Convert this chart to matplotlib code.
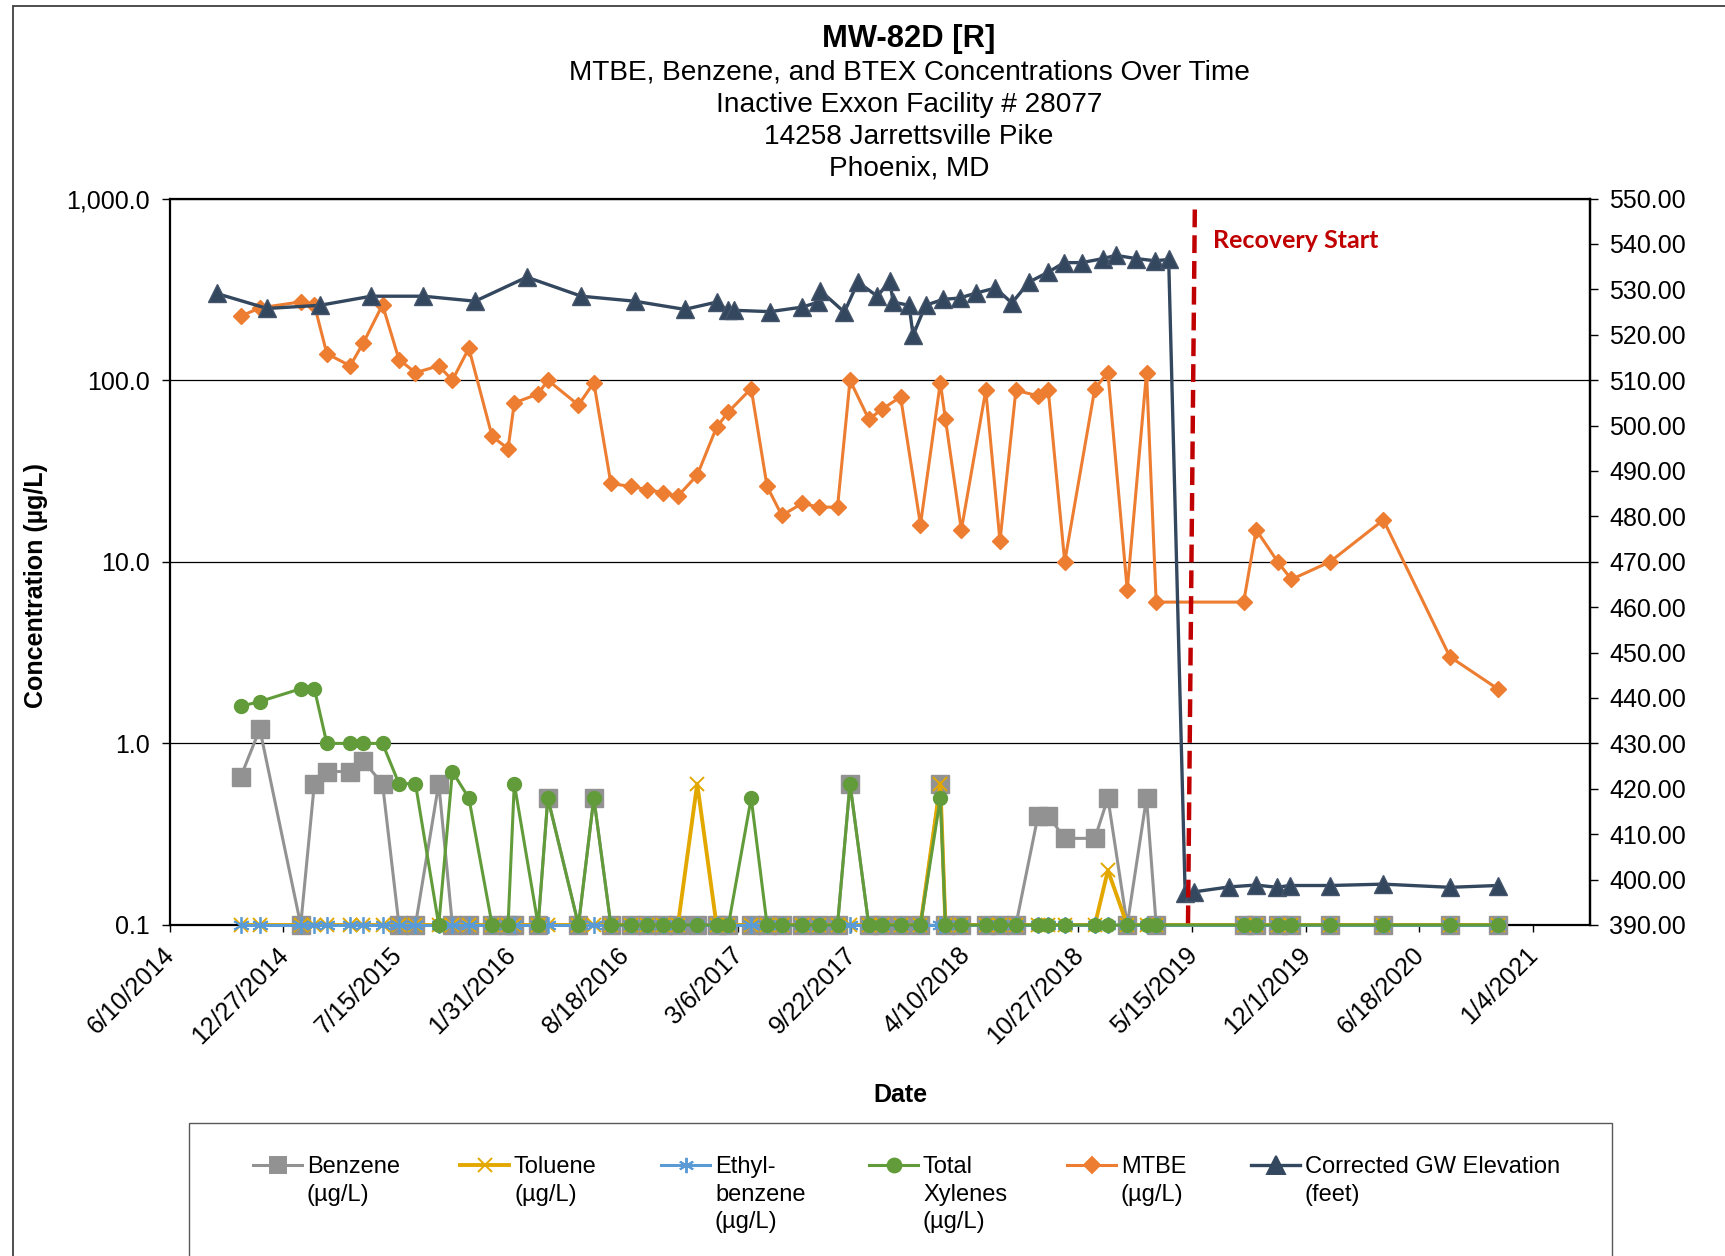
import matplotlib
matplotlib.use("Agg")
import matplotlib.pyplot as plt
from matplotlib.lines import Line2D
from matplotlib.patches import Rectangle
from matplotlib.ticker import FixedLocator, NullLocator, FuncFormatter
from matplotlib.transforms import ScaledTranslation
import pandas as pd
import numpy as np

plt.rcParams['font.family'] = ['Liberation Sans', 'DejaVu Sans']

# sampling dates for the concentration series
sample_dates = pd.to_datetime([
    "2014-10-13", "2014-11-16", "2015-01-27", "2015-02-20", "2015-03-14",
    "2015-04-24", "2015-05-17", "2015-06-20", "2015-07-19", "2015-08-17",
    "2015-09-27", "2015-10-21", "2015-11-19", "2015-12-30", "2016-01-27",
    "2016-02-07", "2016-03-20", "2016-04-06", "2016-05-30", "2016-06-26",
    "2016-07-26", "2016-08-30", "2016-09-28", "2016-10-26", "2016-11-21",
    "2016-12-25", "2017-01-28", "2017-02-18", "2017-03-30", "2017-04-27",
    "2017-05-23", "2017-06-28", "2017-07-27", "2017-08-29", "2017-09-20",
    "2017-10-23", "2017-11-15", "2017-12-18", "2018-01-22", "2018-02-26",
    "2018-03-07", "2018-04-04", "2018-05-17", "2018-06-11", "2018-07-09",
    "2018-08-17", "2018-09-04", "2018-10-03", "2018-11-25", "2018-12-18",
    "2019-01-21", "2019-02-24", "2019-03-13", "2019-08-14", "2019-09-05",
    "2019-10-13", "2019-11-06", "2020-01-13", "2020-04-16", "2020-08-11",
    "2020-11-03",
])

mtbe = [225, 250, 270, 260, 140, 120, 160, 260, 130, 110,
        120, 100, 150, 49, 42, 75, 84, 100, 73, 97,
        27, 26, 25, 24, 23, 30, 55, 67, 90, 26,
        18, 21, 20, 20, 100, 61, 69, 81, 16, 97,
        61, 15, 88, 13, 88, 82, 88, 10, 90, 110,
        7, 110, 6, 6, 15, 10, 8, 10, 17, 3,
        2]

benzene = [0.65, 1.2, 0.1, 0.6, 0.7, 0.7, 0.8, 0.6, 0.1, 0.1,
           0.6, 0.1, 0.1, 0.1, 0.1, 0.1, 0.1, 0.5, 0.1, 0.5,
           0.1, 0.1, 0.1, 0.1, 0.1, 0.1, 0.1, 0.1, 0.1, 0.1,
           0.1, 0.1, 0.1, 0.1, 0.6, 0.1, 0.1, 0.1, 0.1, 0.6,
           0.1, 0.1, 0.1, 0.1, 0.1, 0.4, 0.4, 0.3, 0.3, 0.5,
           0.1, 0.5, 0.1, 0.1, 0.1, 0.1, 0.1, 0.1, 0.1, 0.1,
           0.1]

toluene = [0.1, 0.1, 0.1, 0.1, 0.1, 0.1, 0.1, 0.1, 0.1, 0.1,
           0.1, 0.1, 0.1, 0.1, 0.1, 0.1, 0.1, 0.1, 0.1, 0.1,
           0.1, 0.1, 0.1, 0.1, 0.1, 0.6, 0.1, 0.1, 0.1, 0.1,
           0.1, 0.1, 0.1, 0.1, 0.1, 0.1, 0.1, 0.1, 0.1, 0.6,
           0.1, 0.1, 0.1, 0.1, 0.1, 0.1, 0.1, 0.1, 0.1, 0.2,
           0.1, 0.1, 0.1, 0.1, 0.1, 0.1, 0.1, 0.1, 0.1, 0.1,
           0.1]

ethylbenzene = [0.1, 0.1, 0.1, 0.1, 0.1, 0.1, 0.1, 0.1, 0.1, 0.1,
                0.1, 0.1, 0.1, 0.1, 0.1, 0.1, 0.1, 0.1, 0.1, 0.1,
                0.1, 0.1, 0.1, 0.1, 0.1, 0.1, 0.1, 0.1, 0.1, 0.1,
                0.1, 0.1, 0.1, 0.1, 0.1, 0.1, 0.1, 0.1, 0.1, 0.1,
                0.1, 0.1, 0.1, 0.1, 0.1, 0.1, 0.1, 0.1, 0.1, 0.1,
                0.1, 0.1, 0.1, 0.1, 0.1, 0.1, 0.1, 0.1, 0.1, 0.1,
                0.1]

xylenes = [1.6, 1.7, 2.0, 2.0, 1.0, 1.0, 1.0, 1.0, 0.6, 0.6,
           0.1, 0.7, 0.5, 0.1, 0.1, 0.6, 0.1, 0.5, 0.1, 0.5,
           0.1, 0.1, 0.1, 0.1, 0.1, 0.1, 0.1, 0.1, 0.5, 0.1,
           0.1, 0.1, 0.1, 0.1, 0.6, 0.1, 0.1, 0.1, 0.1, 0.5,
           0.1, 0.1, 0.1, 0.1, 0.1, 0.1, 0.1, 0.1, 0.1, 0.1,
           0.1, 0.1, 0.1, 0.1, 0.1, 0.1, 0.1, 0.1, 0.1, 0.1,
           0.1]

# groundwater elevation gauging
gw_dates = pd.to_datetime([
    "2014-09-01", "2014-11-29", "2015-03-02", "2015-05-31", "2015-08-31",
    "2015-11-30", "2016-02-29", "2016-06-04", "2016-09-06", "2016-12-03",
    "2017-01-28", "2017-02-17", "2017-02-28", "2017-05-02", "2017-06-28",
    "2017-07-26", "2017-07-30", "2017-09-10", "2017-10-04", "2017-11-07",
    "2017-11-29", "2017-12-05", "2018-01-02", "2018-01-09", "2018-01-31",
    "2018-03-03", "2018-04-01", "2018-04-30", "2018-06-03", "2018-07-02",
    "2018-08-01", "2018-09-04", "2018-10-02", "2018-11-02", "2018-12-10",
    "2019-01-01", "2019-02-05", "2019-03-11", "2019-04-04", "2019-05-03",
    "2019-05-19", "2019-07-20", "2019-09-05", "2019-10-12", "2019-11-03",
    "2020-01-13", "2020-04-16", "2020-08-11", "2020-11-03",
])
gw_elev = [529.1, 525.8, 526.5, 528.5, 528.5, 527.4, 532.7, 528.5, 527.4, 525.6,
           527.2, 525.4, 525.4, 525.1, 526.1, 527.2, 529.7, 525.0, 531.6, 528.5,
           531.8, 527.2, 526.5, 519.9, 526.5, 527.8, 528.1, 529.2, 530.3, 527.0,
           531.6, 533.8, 535.9, 535.9, 536.8, 537.5, 536.8, 536.3, 536.6, 397.0,
           397.3, 398.4, 398.8, 398.3, 398.7, 398.7, 399.0, 398.3, 398.7]

recovery_dates = pd.to_datetime(["2019-05-20", "2019-05-08"])

x_ticks = pd.date_range("2014-06-10", periods=13, freq="200D")
x_max = pd.Timestamp("2021-04-14")

title_lines = ["MTBE, Benzene, and BTEX Concentrations Over Time",
               "Inactive Exxon Facility # 28077",
               "14258 Jarrettsville Pike",
               "Phoenix, MD"]

c_benz = '#929292'
c_tol = '#e3a800'
c_eth = '#5b9bd5'
c_xyl = '#629c3a'
c_mtbe = '#ed7d31'
c_gw = '#33475e'
c_red = '#c00000'

W, H = 1725, 1256
fig = plt.figure(figsize=(W / 100, H / 100), dpi=100)


def fx(px):
    return px / W


def fy(py):
    return 1 - py / H


ax = fig.add_axes([fx(169.5), fy(925), fx(1589.6) - fx(169.5), fy(198.6) - fy(925)])

ax.plot(sample_dates, benzene, color=c_benz, lw=2.2, marker='s', ms=13,
        mec=c_benz, zorder=3, clip_on=False)
ax.plot(sample_dates, toluene, color=c_tol, lw=2.8, marker='x', ms=10,
        mew=1.4, zorder=4, clip_on=False)
ax.plot(sample_dates, ethylbenzene, color=c_eth, lw=2.2, marker=(6, 2, 0), ms=12,
        mew=1.3, zorder=5, clip_on=False)
ax.plot(sample_dates, xylenes, color=c_xyl, lw=2.2, marker='o', ms=10,
        zorder=6, clip_on=False)
ax.plot(sample_dates, mtbe, color=c_mtbe, lw=2.2, marker='D', ms=8,
        zorder=7, clip_on=False)

ax.set_yscale('log')
ax.set_ylim(0.1, 1000)
ax.yaxis.set_major_locator(FixedLocator([0.1, 1, 10, 100, 1000]))
ax.yaxis.set_minor_locator(NullLocator())
ax.yaxis.set_major_formatter(FuncFormatter(lambda v, p: f"{v:,.1f}"))
ax.grid(axis='y', color='black', lw=0.9)
ax.set_axisbelow(True)

ax.set_xlim(x_ticks[0], x_max)
ax.set_xticks(x_ticks)
ax.set_xticklabels([f"{d.month}/{d.day}/{d.year}" for d in x_ticks],
                   rotation=45, ha='right', rotation_mode='anchor')
ax.xaxis.set_minor_locator(NullLocator())

ax.tick_params(axis='y', direction='out', length=6, width=1, labelsize=18, pad=8)
ax.tick_params(axis='x', direction='out', length=5, width=1, labelsize=18, pad=8)

# nudge the slanted date labels a little to the left (after tick_params)
shift = ScaledTranslation(-5 / 72, 0, fig.dpi_scale_trans)
for lbl in ax.get_xticklabels():
    lbl.set_transform(lbl.get_transform() + shift)

for s in ax.spines.values():
    s.set_color('black')
    s.set_linewidth(1.6)
    s.set_zorder(1)

ax2 = ax.twinx()
ax2.plot(gw_dates, gw_elev, color=c_gw, lw=2.4, marker='^', ms=13,
         mec='#44546a', zorder=3, clip_on=False)
ax2.set_ylim(390, 550)
ax2.set_yticks(np.arange(390, 551, 10))
ax2.yaxis.set_major_formatter(FuncFormatter(lambda v, p: f"{v:.2f}"))
ax2.tick_params(axis='y', direction='out', length=6, width=1, labelsize=18, pad=8)
for name, s in ax2.spines.items():
    if name == 'right':
        s.set_color('black')
        s.set_linewidth(1.6)
    else:
        s.set_visible(False)

# recovery start marker
ax2.plot(recovery_dates, [547.6, 390], color=c_red, lw=3.2,
         linestyle=(0, (4, 1.8)), zorder=10, clip_on=False)
ax2.text(0.735, 0.943, "Recovery Start", transform=ax2.transAxes,
         color=c_red, fontsize=18, fontweight='bold', va='center', ha='left',
         family=['Lato', 'DejaVu Sans'])

# titles
fig.text(fx(909), fy(39), "MW-82D [R]", ha='center', va='center',
         fontsize=22.2, fontweight='bold')
for i, line in enumerate(title_lines):
    fig.text(fx(909), fy(72.5 + 32 * i), line, ha='center', va='center', fontsize=20.2)

fig.text(fx(36), fy(586), "Concentration (µg/L)", rotation=90, ha='center',
         va='center', fontsize=18, fontweight='bold')
fig.text(fx(900), fy(1095), "Date", ha='center', va='center', fontsize=18,
         fontweight='bold')

# borders
fig.patches.append(Rectangle((fx(13), -0.2), 1.3, fy(5.5) + 0.2, transform=fig.transFigure,
                             fill=False, edgecolor='#404040', lw=1.3))
fig.patches.append(Rectangle((fx(189), -0.2), fx(1611.7) - fx(189), fy(1123) + 0.2,
                             transform=fig.transFigure, fill=False,
                             edgecolor='#595959', lw=1.0))

# legend
legend_items = [
    ("Benzene\n(µg/L)", c_benz, 's', 12, 2.2, 253),
    ("Toluene\n(µg/L)", c_tol, 'x', 10, 2.8, 460),
    ("Ethyl-\nbenzene\n(µg/L)", c_eth, (6, 2, 0), 11, 2.2, 661),
    ("Total\nXylenes\n(µg/L)", c_xyl, 'o', 10, 2.2, 869),
    ("MTBE\n(µg/L)", c_mtbe, 'D', 8, 2.2, 1067),
    ("Corrected GW Elevation\n(feet)", c_gw, '^', 13, 2.4, 1251),
]
for label, col, mk, ms, lw, x0 in legend_items:
    x1 = x0 + 49
    ln = Line2D([fx(x0), fx((x0 + x1) / 2), fx(x1)], [fy(1165)] * 3,
                transform=fig.transFigure, color=col, lw=lw, marker=mk, ms=ms,
                markevery=[1], mew=1.4)
    fig.add_artist(ln)
    fig.text(fx(x1 + 5), fy(1156), label, ha='left', va='top', fontsize=17,
             linespacing=1.33)

fig.savefig("out.png", dpi=100)
